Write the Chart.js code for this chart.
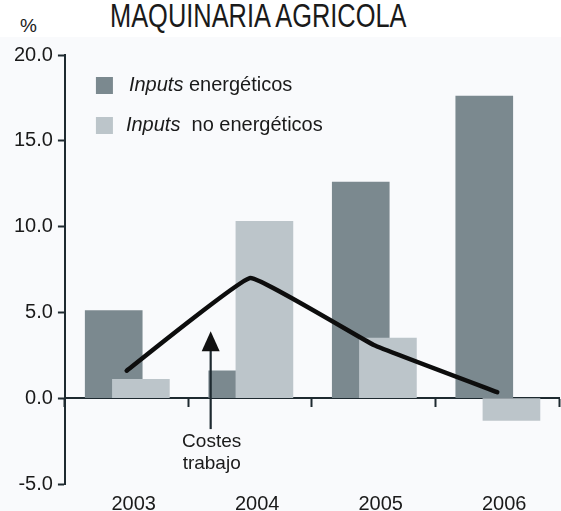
<!DOCTYPE html>
<html>
<head>
<meta charset="utf-8">
<script src="https://cdn.jsdelivr.net/npm/chart.js@4"></script>
<style>
  body { margin: 0; background: #ffffff; }
  #wrap { position: relative; width: 561px; height: 511px; }
  #pct { position: absolute; left: 20px; top: 16px; font: 19px "Liberation Sans", Arial, sans-serif; line-height: 19px; color: #1a1a1a; }
  #title { position: absolute; left: 110px; top: -1px; font: 33px "Liberation Sans", Arial, sans-serif; line-height: 33px; color: #1a1a1a; transform: scaleX(0.77); transform-origin: left top; white-space: nowrap; }
  #box { position: absolute; left: 0; top: 37px; width: 561px; height: 474px; background: #f9fafc; }
</style>
</head>
<body>
<div id="wrap">
  <div id="pct">%</div>
  <div id="title">MAQUINARIA AGRICOLA</div>
  <div id="box"><canvas id="chart"></canvas></div>
</div>
<script>
"use strict";

// 1: data
let years = [2003, 2004, 2005, 2006];
let energeticos = [5.1, 1.6, 12.6, 17.6];
let noEnergeticos = [1.1, 10.3, 3.5, -1.3];
let costesTrabajo = [1.6, 7.0, 3.1, 0.35];
let yTicks = [-5, 0, 5, 10, 15, 20];

// labels
let labelEnerg = "Inputs energéticos";
let labelNoEnerg = "Inputs  no energéticos";
let arrowText = ["Costes", "trabajo"];
// arrow: x position (in years) and the y values it spans
let arrowX = 2003.68;
let arrowFrom = -1.8;
let arrowTo = 3.9;

const dark = "#7b898f";
const light = "#bcc5ca";
const ink = "#1e2a30";
const font = "'Liberation Sans', Arial, sans-serif";

// bars sit a little left/right of the year so they overlap
function shifted(values, dx) {
  return values.map((v, i) => ({ x: years[i] + dx, y: v }));
}

// legend drawn inside the plot, first word in italics
const insideLegend = {
  id: "insideLegend",
  afterDatasetsDraw(chart) {
    const ctx = chart.ctx;
    const a = chart.chartArea;
    const sets = chart.data.datasets.filter(d => d.type === "bar");
    ctx.save();
    sets.forEach((d, i) => {
      const top = a.top + 22 + i * 40;
      ctx.fillStyle = d.backgroundColor;
      ctx.fillRect(a.left + 31, top, 17, 17);
      const first = d.label.split(" ")[0];
      const rest = d.label.slice(first.length);
      let x = a.left + 64 - i * 3;
      const base = top + 14;
      ctx.fillStyle = "#1a1a1a";
      ctx.textBaseline = "alphabetic";
      ctx.font = "italic 20px " + font;
      ctx.fillText(first, x, base);
      x += ctx.measureText(first).width;
      ctx.font = "20px " + font;
      ctx.fillText(rest, x, base);
    });
    ctx.restore();
  }
};

// arrow pointing up at the line, with its label
const arrowNote = {
  id: "arrowNote",
  afterDatasetsDraw(chart) {
    const ctx = chart.ctx;
    const sx = chart.scales.x, sy = chart.scales.y;
    const x = sx.getPixelForValue(arrowX);
    const y0 = sy.getPixelForValue(arrowFrom);
    const y1 = sy.getPixelForValue(arrowTo);
    ctx.save();
    ctx.strokeStyle = ink;
    ctx.fillStyle = "#111";
    ctx.lineWidth = 2.2;
    ctx.beginPath();
    ctx.moveTo(x, y0);
    ctx.lineTo(x, y1 + 18);
    ctx.stroke();
    ctx.beginPath();
    ctx.moveTo(x, y1);
    ctx.lineTo(x - 9, y1 + 20);
    ctx.lineTo(x + 9, y1 + 20);
    ctx.closePath();
    ctx.fill();
    ctx.fillStyle = "#1a1a1a";
    ctx.font = "19px " + font;
    ctx.textAlign = "center";
    ctx.textBaseline = "alphabetic";
    arrowText.forEach((t, i) => ctx.fillText(t, x + 1, y0 + 18 + i * 22));
    ctx.restore();
  }
};

let chartContainer = document.getElementById("chart");
let chart = new Chart(chartContainer, {
  type: "bar",
  data: {
    datasets: [{
      type: "line",
      label: "Costes trabajo",
      data: costesTrabajo.map((v, i) => ({ x: years[i], y: v })),
      borderColor: "#0d0d0d",
      borderWidth: 4.5,
      borderCapStyle: "round",
      borderJoinStyle: "round",
      pointRadius: 0,
      tension: 0.08,
      order: 0
    }, {
      type: "bar",
      label: labelEnerg,
      data: shifted(energeticos, -0.105),
      backgroundColor: dark,
      order: 2
    }, {
      type: "bar",
      label: labelNoEnerg,
      data: shifted(noEnergeticos, 0.115),
      backgroundColor: light,
      order: 1
    }]
  },
  options: {
    responsive: true,
    maintainAspectRatio: false,
    animation: false,
    grouped: false,
    barThickness: 57,
    layout: { padding: { left: 9, top: 18, right: 2, bottom: 0 } },
    plugins: {
      legend: { display: false },
      tooltip: { enabled: false }
    },
    scales: {
      x: {
        type: "linear",
        position: "bottom",
        offset: false,
        min: years[0] - 0.5,
        max: years[years.length - 1] + 0.5,
        afterBuildTicks: s => { s.ticks = years.map(v => ({ value: v })); },
        afterFit: s => { s.height = 27; },
        ticks: {
          callback: v => String(v),
          font: { size: 20, family: font },
          color: "#1a1a1a",
          padding: 0,
          labelOffset: 7,
          maxRotation: 0
        },
        grid: { display: false, offset: false },
        border: { display: false }
      },
      x0: {
        type: "linear",
        position: { y: 0 },
        offset: false,
        min: years[0] - 0.5,
        max: years[years.length - 1] + 0.5,
        afterBuildTicks: s => {
          s.ticks = years.concat([years[years.length - 1] + 1]).map(v => ({ value: v - 0.5 }));
        },
        afterFit: s => { s.height = 0; },
        ticks: { display: false },
        grid: { drawOnChartArea: false, offset: false, tickLength: 8, tickColor: ink, tickWidth: 2 },
        border: { color: ink, width: 2 }
      },
      y: {
        min: yTicks[0],
        max: yTicks[yTicks.length - 1],
        afterBuildTicks: s => { s.ticks = yTicks.map(v => ({ value: v })); },
        ticks: {
          callback: v => v.toFixed(1),
          font: { size: 20, family: font },
          color: "#1a1a1a",
          padding: 5
        },
        grid: { drawOnChartArea: false, tickLength: 7, tickColor: ink, tickWidth: 2 },
        border: { color: ink, width: 2 }
      }
    }
  },
  plugins: [insideLegend, arrowNote]
});
</script>
</body>
</html>
